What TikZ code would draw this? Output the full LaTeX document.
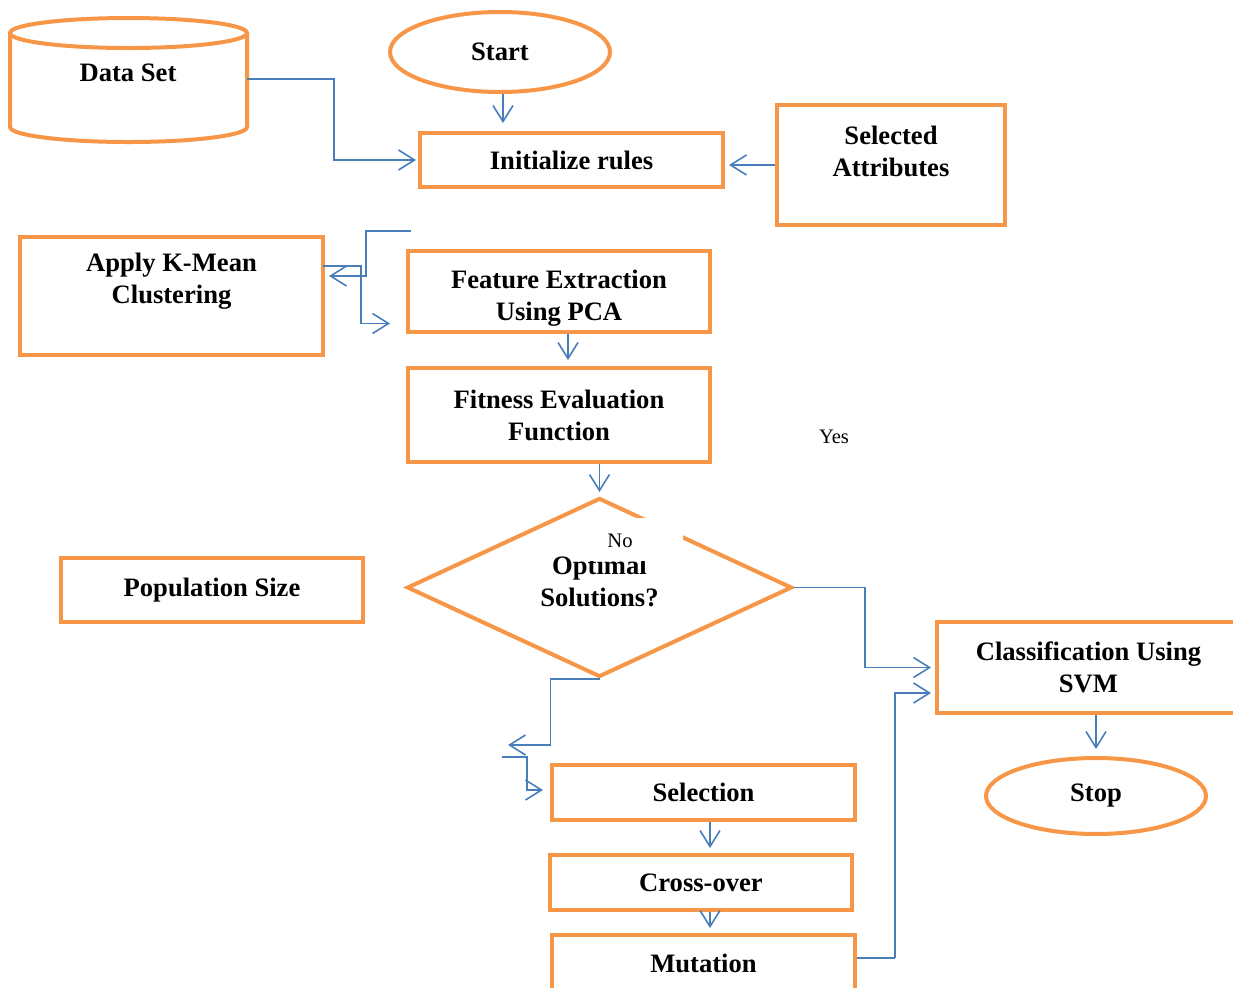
\documentclass[tikz,border=0pt]{standalone}
\usepackage{fontspec}
\setmainfont{Liberation Serif}
\usetikzlibrary{shapes.geometric,arrows.meta}
\definecolor{boxorange}{HTML}{F79646}
\definecolor{flowblue}{HTML}{4A7EBB}
\tikzset{
  txt/.style={align=center, font=\bfseries\fontsize{13.3}{16}\selectfont},
  box/.style={txt, draw=boxorange, line width=2pt, fill=white, inner sep=2pt},
  oval/.style={box, ellipse},
  flow/.style={draw=flowblue, line width=0.8pt, -{Straight Barb[length=8pt,width=10pt]}},
  note/.style={font=\fontsize{10.3}{12}\selectfont}
}
\begin{document}
\begin{tikzpicture}[x=0.5pt,y=-0.5pt]
        \clip (0,0) rectangle (1233,987);

        % Data Set
        \draw[boxorange, line width=2pt] (10,33) -- (10,127)
            arc[start angle=180, end angle=360, x radius=59.25pt, y radius=7.5pt] -- (247,33);
        \draw[boxorange, line width=2pt] (128.5,33) ellipse [x radius=59.25pt, y radius=7.5pt];
        \node[txt] (dataset) at (128,73) {Data Set};
        \coordinate (dsout) at (247,79);

        % Blocchi
        \node[oval, minimum width=110pt, minimum height=40pt] (start) at (500,52) {Start};
        \node[box, minimum width=151.5pt, minimum height=27pt] (init) at (571.5,160) {Initialize rules};
        \node[box, minimum width=114pt, minimum height=60pt,
            label={[txt,yshift=7pt]center:{Selected\\Attributes}}] (selattr) at (891,165) {};
        \node[box, minimum width=151.5pt, minimum height=59pt,
            label={[txt,yshift=7.5pt]center:{Apply K-Mean\\Clustering}}] (kmean) at (171.5,296) {};
        \node[box, minimum width=151pt, minimum height=40.5pt,
            label={[txt,yshift=-3.5pt]center:{Feature Extraction\\Using PCA}}] (pca) at (559,291.5) {};
        \node[box, minimum width=151pt, minimum height=47pt] (fitness) at (559,415) {Fitness Evaluation\\Function};
        \node[box, diamond, inner sep=0pt, minimum width=192.5pt, minimum height=89.5pt,
            label={[txt,yshift=3pt]center:{Optimal\\Solutions?}}] (opt) at (599.5,587.5) {};
        \node[box, minimum width=151pt, minimum height=32pt] (popsize) at (212,590) {Population Size};
        \node[box, minimum width=151.5pt, minimum height=45.5pt] (classif) at (1088.5,667.5) {Classification Using\\SVM};
        \node[oval, minimum width=110pt, minimum height=38pt] (stop) at (1096,796) {Stop};
        \node[box, minimum width=151.5pt, minimum height=27.5pt] (selection) at (703.5,792.5) {Selection};
        \node[box, minimum width=151pt, minimum height=27.5pt] (crossover) at (701,882.5) {Cross-over};
        \node[box, minimum width=151.5pt, minimum height=28pt] (mutation) at (703.5,963) {Mutation};

        % Annotazioni
        \node[note] (yes) at (834,437) {Yes};
        \fill[white] (584,518) rectangle (683,561);
        \node[note] (no) at (620,541) {No};

        % Frecce
        \draw[flow] (dsout) -- ++(87,0) |- ([xshift=-1pt]init.west);
        \draw[flow, shorten >=4pt] ([xshift=1.5pt]start.south) -- ([xshift=1.5pt]start.south |- init.north);
        \draw[flow, shorten >=2pt] (selattr.west) -- (selattr.west -| init.east);
        \coordinate (kin) at (411,231);
        \draw[flow] (kin) -- ++(-45,0) |- ([xshift=2pt]kmean.east |- 0,276);
        \draw[flow] ([xshift=-1pt,yshift=15pt]kmean.east) -- ++(38,0) |- ([xshift=-8pt,yshift=-16pt]pca.west);
        \draw[flow, shorten >=3pt] ([xshift=4.5pt]pca.south) -- ([xshift=4.5pt]fitness.north);
        \draw[flow, shorten >=2pt] (fitness.south -| opt.north) -- (opt.north);
        \draw[flow] (opt.east) -- ++(71,0) |- ([xshift=-2pt]classif.west);
        \coordinate (selin) at (508,745);
        \draw[flow] (opt.south) -- ++(-49,0) |- (selin);
        \coordinate (selout) at (502,757);
        \draw[flow] (selout) -- ++(25,0) |- ([xshift=-3.5pt,yshift=1.25pt]selection.west);
        \draw[flow, shorten >=2.5pt] ([xshift=3.25pt]selection.south) -- ([xshift=3.25pt]selection.south |- crossover.north);
        \draw[flow, shorten >=2.5pt] ([xshift=4.5pt]crossover.south) -- ([xshift=4.5pt]crossover.south |- mutation.north);
        \draw[-, draw=flowblue, line width=0.8pt] ([yshift=2.5pt]mutation.east) -- ++(38,0) coordinate (mturn);
        \draw[flow] (mturn) |- ([xshift=-2pt,yshift=-12.75pt]classif.west);
        \draw[flow, shorten >=3.5pt] (stop.north |- classif.south) -- (stop.north);
    \end{tikzpicture}
\end{document}
